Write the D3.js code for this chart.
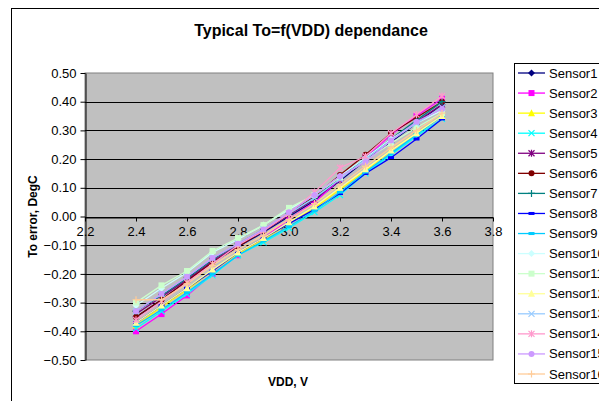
<!DOCTYPE html>
<html>
<head>
<meta charset="utf-8">
<script src="https://cdn.jsdelivr.net/npm/d3@7"></script>
<style>
  body { margin: 0; background: #fff; }
  text { font-family: Arial, "Liberation Sans", sans-serif; }
</style>
</head>
<body>
<div id="chart"></div>
<script>
// data
var vdd = [2.4, 2.5, 2.6, 2.7, 2.8, 2.9, 3.0, 3.1, 3.2, 3.3, 3.4, 3.5, 3.6];
var sensorNames = ["Sensor1", "Sensor2", "Sensor3", "Sensor4", "Sensor5", "Sensor6", "Sensor7", "Sensor8",
  "Sensor9", "Sensor10", "Sensor11", "Sensor12", "Sensor13", "Sensor14", "Sensor15", "Sensor16"];
var s1 = [-0.35, -0.29, -0.225, -0.16, -0.105, -0.055, 0.00, 0.055, 0.125, 0.195, 0.26, 0.325, 0.39];
var s2 = [-0.40, -0.34, -0.275, -0.20, -0.135, -0.075, -0.01, 0.05, 0.13, 0.205, 0.285, 0.35, 0.41];
var s3 = [-0.38, -0.315, -0.255, -0.19, -0.13, -0.08, -0.025, 0.03, 0.095, 0.16, 0.23, 0.29, 0.35];
var s4 = [-0.39, -0.33, -0.27, -0.205, -0.135, -0.09, -0.04, 0.015, 0.075, 0.15, 0.215, 0.28, 0.34];
var s5 = [-0.34, -0.28, -0.22, -0.155, -0.10, -0.05, 0.005, 0.06, 0.13, 0.20, 0.265, 0.33, 0.39];
var s6 = [-0.35, -0.29, -0.225, -0.16, -0.105, -0.05, 0.01, 0.07, 0.145, 0.215, 0.29, 0.345, 0.40];
var s7 = [-0.33, -0.275, -0.215, -0.15, -0.095, -0.045, 0.01, 0.065, 0.135, 0.205, 0.27, 0.335, 0.40];
var s8 = [-0.37, -0.31, -0.25, -0.19, -0.125, -0.075, -0.025, 0.025, 0.08, 0.15, 0.205, 0.27, 0.34];
var s9 = [-0.38, -0.325, -0.265, -0.20, -0.135, -0.085, -0.035, 0.02, 0.085, 0.155, 0.22, 0.285, 0.35];
var s10 = [-0.31, -0.25, -0.195, -0.125, -0.08, -0.03, 0.025, 0.075, 0.14, 0.205, 0.27, 0.325, 0.37];
var s11 = [-0.30, -0.24, -0.19, -0.12, -0.075, -0.03, 0.03, 0.075, 0.135, 0.195, 0.255, 0.31, 0.36];
var s12 = [-0.37, -0.31, -0.25, -0.185, -0.125, -0.075, -0.02, 0.035, 0.10, 0.165, 0.23, 0.29, 0.35];
var s13 = [-0.33, -0.27, -0.21, -0.145, -0.095, -0.045, 0.01, 0.065, 0.13, 0.20, 0.265, 0.325, 0.38];
var s14 = [-0.36, -0.295, -0.23, -0.165, -0.10, -0.05, 0.01, 0.085, 0.17, 0.21, 0.29, 0.355, 0.42];
var s15 = [-0.33, -0.27, -0.21, -0.145, -0.095, -0.045, 0.015, 0.075, 0.14, 0.19, 0.265, 0.33, 0.375];
var s16 = [-0.29, -0.29, -0.235, -0.17, -0.115, -0.065, -0.01, 0.045, 0.11, 0.175, 0.24, 0.30, 0.36];
var yTicks = [0.5, 0.4, 0.3, 0.2, 0.1, 0, -0.1, -0.2, -0.3, -0.4, -0.5];
var xTicks = [2.2, 2.4, 2.6, 2.8, 3.0, 3.2, 3.4, 3.6, 3.8];

var allSeries = [s1, s2, s3, s4, s5, s6, s7, s8, s9, s10, s11, s12, s13, s14, s15, s16];
var colors = ["#000080", "#ff00ff", "#ffff00", "#00ffff", "#800080", "#800000", "#008080", "#0000ff",
  "#00ccff", "#ccffff", "#ccffcc", "#ffff99", "#99ccff", "#ff99cc", "#cc99ff", "#ffcc99"];
var shapes = ["diamond", "square", "triangle", "x", "star", "circle", "plus", "dash",
  "dash", "diamond", "square", "triangle", "x", "star", "circle", "plus"];

var series = sensorNames.map(function(name, i) {
  return { name: name, color: colors[i], shape: shapes[i],
    values: vdd.map(function(v, j) { return { x: v, y: allSeries[i][j] }; }) };
});

var svgWidth = 599, svgHeight = 401;
var plot = { left: 85, top: 73, right: 493, bottom: 360 };

var svg = d3.select("#chart").append("svg")
  .attr("width", svgWidth)
  .attr("height", svgHeight);

// chart frame
svg.append("rect")
  .attr("x", 11.5).attr("y", 8.5)
  .attr("width", 700).attr("height", 500)
  .attr("fill", "#fff").attr("stroke", "#000");

var x = d3.scaleLinear().domain([2.2, 3.8]).range([plot.left, plot.right]);
var y = d3.scaleLinear().domain([-0.5, 0.5]).range([plot.bottom, plot.top]);

// plot area
svg.append("rect")
  .attr("x", plot.left).attr("y", plot.top)
  .attr("width", plot.right - plot.left).attr("height", plot.bottom - plot.top)
  .attr("fill", "#c0c0c0").attr("stroke", "#808080");

// gridlines
svg.append("g")
  .selectAll("line")
  .data(yTicks.filter(function(t) { return t !== 0.5 && t !== -0.5; }))
  .enter().append("line")
  .attr("x1", plot.left).attr("x2", plot.right)
  .attr("y1", d => Math.round(y(d)) + 0.5).attr("y2", d => Math.round(y(d)) + 0.5)
  .attr("stroke", "#000");

// y axis
var yAxis = svg.append("g")
  .attr("transform", `translate(${plot.left + 0.5}, 0)`)
  .call(d3.axisLeft(y).tickValues(yTicks).tickSize(5).tickSizeOuter(0).tickFormat(d3.format(".2f")));
yAxis.select(".domain").attr("stroke", "#000");
yAxis.selectAll("text").attr("font-size", "13px").attr("fill", "#000").attr("x", -9);

// x axis at zero
var xAxis = svg.append("g")
  .attr("transform", `translate(0, ${Math.round(y(0)) + 0.5})`)
  .call(d3.axisBottom(x).tickValues(xTicks).tickSize(4).tickSizeOuter(0).tickFormat(d3.format(".1f")));
xAxis.select(".domain").attr("stroke", "#000");
xAxis.selectAll("text").attr("font-size", "13px").attr("fill", "#000").attr("y", 9);

// titles
svg.append("text")
  .attr("x", 311).attr("y", 36)
  .attr("text-anchor", "middle")
  .attr("font-size", "16px").attr("font-weight", "bold")
  .text("Typical To=f(VDD) dependance");

svg.append("text")
  .attr("x", 288).attr("y", 386)
  .attr("text-anchor", "middle")
  .attr("font-size", "12px").attr("font-weight", "bold")
  .text("VDD, V");

svg.append("text")
  .attr("transform", `translate(37, ${(plot.top + plot.bottom) / 2}) rotate(-90)`)
  .attr("text-anchor", "middle")
  .attr("font-size", "12px").attr("font-weight", "bold")
  .text("To error, DegC");

// marker drawing
function drawMarker(g, shape, color, cx, cy) {
  var r = 3;
  if (shape === "diamond") {
    g.append("path").attr("d", `M${cx},${cy - r - 0.5}L${cx + r + 0.5},${cy}L${cx},${cy + r + 0.5}L${cx - r - 0.5},${cy}Z`).attr("fill", color);
  } else if (shape === "square") {
    g.append("rect").attr("x", cx - r).attr("y", cy - r).attr("width", 2 * r).attr("height", 2 * r).attr("fill", color);
  } else if (shape === "triangle") {
    g.append("path").attr("d", `M${cx},${cy - r - 1}L${cx + r + 0.5},${cy + r}L${cx - r - 0.5},${cy + r}Z`).attr("fill", color);
  } else if (shape === "circle") {
    g.append("circle").attr("cx", cx).attr("cy", cy).attr("r", r).attr("fill", color);
  } else if (shape === "dash") {
    g.append("rect").attr("x", cx - r).attr("y", cy - 1.5).attr("width", 2 * r).attr("height", 3).attr("fill", color);
  } else {
    var p = "";
    if (shape === "x" || shape === "star") p += `M${cx - r},${cy - r}L${cx + r},${cy + r}M${cx - r},${cy + r}L${cx + r},${cy - r}`;
    if (shape === "star") p += `M${cx},${cy - r - 0.5}L${cx},${cy + r + 0.5}`;
    if (shape === "plus") p += `M${cx - r - 0.5},${cy}L${cx + r + 0.5},${cy}M${cx},${cy - r - 0.5}L${cx},${cy + r + 0.5}`;
    g.append("path").attr("d", p).attr("fill", "none").attr("stroke", color).attr("stroke-width", 1.2);
  }
}

// lines + markers
var line = d3.line().x(d => x(d.x)).y(d => y(d.y));
var marks = svg.append("g");
series.forEach(function(s) {
  var g = marks.append("g");
  g.append("path")
    .datum(s.values)
    .attr("d", line)
    .attr("fill", "none")
    .attr("stroke", s.color)
    .attr("stroke-width", 1.3);
  s.values.forEach(function(d) { drawMarker(g, s.shape, s.color, x(d.x), y(d.y)); });
});

// legend
var legend = svg.append("g");
legend.append("rect")
  .attr("x", 514.5).attr("y", 63.5)
  .attr("width", 200).attr("height", 320)
  .attr("fill", "#fff").attr("stroke", "#000");
var legendY = d3.scaleLinear().domain([0, 15]).range([73, 374]);
series.forEach(function(s, i) {
  var ly = legendY(i);
  var g = legend.append("g");
  g.append("line")
    .attr("x1", 518).attr("x2", 545)
    .attr("y1", ly).attr("y2", ly)
    .attr("stroke", s.color).attr("stroke-width", 1.3);
  drawMarker(g, s.shape, s.color, 531.5, ly);
  g.append("text")
    .attr("x", 549).attr("y", ly).attr("dy", "0.35em")
    .attr("font-size", "13px")
    .text(s.name);
});
</script>
</body>
</html>
